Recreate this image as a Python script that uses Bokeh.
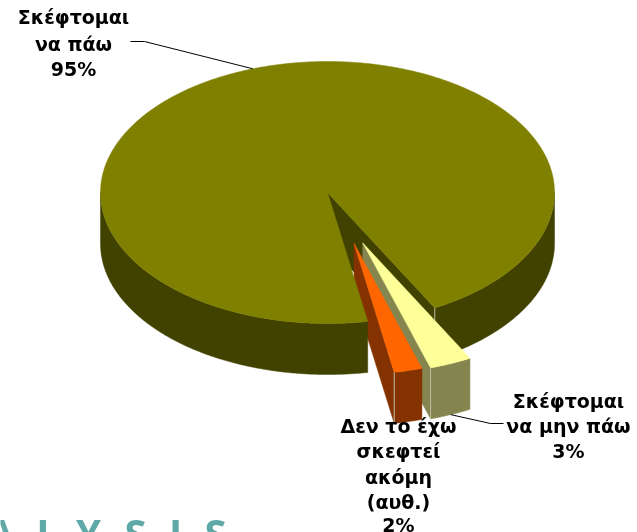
import math
from bokeh.plotting import figure
from bokeh.embed import file_html
from bokeh.resources import INLINE
from bokeh.models import Range1d
from bokeh.core.properties import value

# data
categories = ["Σκέφτομαι να πάω", "Σκέφτομαι να μην πάω", "Δεν το έχω σκεφτεί ακόμη (αυθ.)"]
values = [95, 3, 2]
percent_labels = ["95%", "3%", "2%"]
label_lines = [["Σκέφτομαι", "να πάω"], ["Σκέφτομαι", "να μην πάω"],
               ["Δεν το έχω", "σκεφτεί", "ακόμη", "(αυθ.)"]]
top_colors = ["#808000", "#FFFF99", "#FF6600"]
side_colors = ["#424200", "#858550", "#843300"]

# layout
W, H = 637, 532
CX, CY, RX, RY, DEPTH = 327, 192, 227, 131, 51
START = 169.8
EXPLODE_X = [0, 0.40, 0.49]
EXPLODE_Y = [0, 0.417, 0.40]
EDGE = "#BDB9A0"
label_x = [73, 568, 398]
label_y = [[16, 43], [400, 425], [425, 450, 476, 501]]
pct_y = [68, 450, 524]
FS = "19px"

total = sum(values)
spans = [v / total * 360 for v in values]
main_a0 = START
main_a1 = START + spans[0]
yellow_a0, yellow_a1 = main_a1 - 360, main_a1 - 360 + spans[1]
orange_a0, orange_a1 = yellow_a1, yellow_a1 + spans[2]


def pt(a, off=(0, 0), dz=0):
    r = math.radians(a)
    return CX + off[0] + RX * math.sin(r), CY + off[1] + RY * math.cos(r) * -1 + dz


def arc(a0, a1, off=(0, 0), dz=0):
    n = max(2, int(abs(a1 - a0) * 2))
    return [pt(a0 + (a1 - a0) * i / n, off, dz) for i in range(n + 1)]


def offset(a0, a1, i):
    m = math.radians((a0 + a1) / 2)
    return EXPLODE_X[i] * RX * math.sin(m), -EXPLODE_Y[i] * RY * math.cos(m)


p = figure(width=W, height=H, x_range=Range1d(0, W), y_range=Range1d(H, 0),
           output_backend="svg", toolbar_location=None, min_border=0,
           outline_line_color=None, background_fill_color="white")
p.axis.visible = False
p.grid.visible = False
p.styles = {"position": "fixed", "left": "0", "top": "0"}


def poly(pts, color):
    p.patch([q[0] for q in pts], [q[1] for q in pts], fill_color=color,
            line_color=color, line_width=0.5)


def edge(q, dz=DEPTH):
    p.line([q[0], q[0]], [q[1], q[1] + dz], line_color=EDGE, line_width=1)


def wall(a, off, color):
    apex = (CX + off[0], CY + off[1])
    tip = pt(a, off)
    poly([apex, tip, (tip[0], tip[1] + DEPTH), (apex[0], apex[1] + DEPTH)], color)


def rim(a0, a1, off, color):
    poly(arc(a0, a1, off) + arc(a1, a0, off, DEPTH), color)


def top(a0, a1, off, color):
    poly([(CX + off[0], CY + off[1])] + arc(a0, a1, off), color)


# main slice: inner wall and right-hand rim sit behind the pulled slices
wall(yellow_a0, (0, 0), side_colors[0])
rim(90, yellow_a0, (0, 0), side_colors[0])
edge(pt(yellow_a0))

# 3% slice
oy = offset(yellow_a0, yellow_a1, 1)
wall(yellow_a1, oy, side_colors[1])
rim(yellow_a0, yellow_a1, oy, side_colors[1])
top(yellow_a0, yellow_a1, oy, top_colors[1])
edge(pt(yellow_a1, oy))

# 2% slice
oo = offset(orange_a0, orange_a1, 2)
wall(orange_a1, oo, side_colors[2])
rim(orange_a0, orange_a1, oo, side_colors[2])
top(orange_a0, orange_a1, oo, top_colors[2])
edge(pt(orange_a1, oo))

# main slice front
rim(main_a0, 270, (0, 0), side_colors[0])
top(main_a0, main_a1, (0, 0), top_colors[0])

# leader lines, anchored on each slice's middle
m0 = pt((main_a0 + main_a1) / 2)
p.line([m0[0], 144, 130], [m0[1], 41, 41], line_color="black", line_width=1)
m1 = pt((yellow_a0 + yellow_a1) / 2, oy, DEPTH)
p.line([m1[0], 490, 503], [m1[1], 423, 423], line_color="black", line_width=1)

# labels
for x, ys, lines, py, pct in zip(label_x, label_y, label_lines, pct_y, percent_labels):
    p.text([x] * (len(lines) + 1), ys + [py], text=lines + [pct],
           text_font=value("DejaVu Sans"), text_font_style="bold", text_font_size=FS,
           text_color="black", text_align="center", text_baseline="middle")

# cropped logo strip at the foot of the picture
logo_letters = ["A", "L", "Y", "S", "I", "S"]
logo_x = [0, 47, 88, 135, 175, 215]
p.text(logo_x, [504] * 6, text=logo_letters, text_font=value("Open Sans"),
       text_font_size="40px", text_font_style="bold", text_color="#5FA8A8",
       text_align="center", text_baseline="top")

open("out.html", "w").write(file_html(p, INLINE))
